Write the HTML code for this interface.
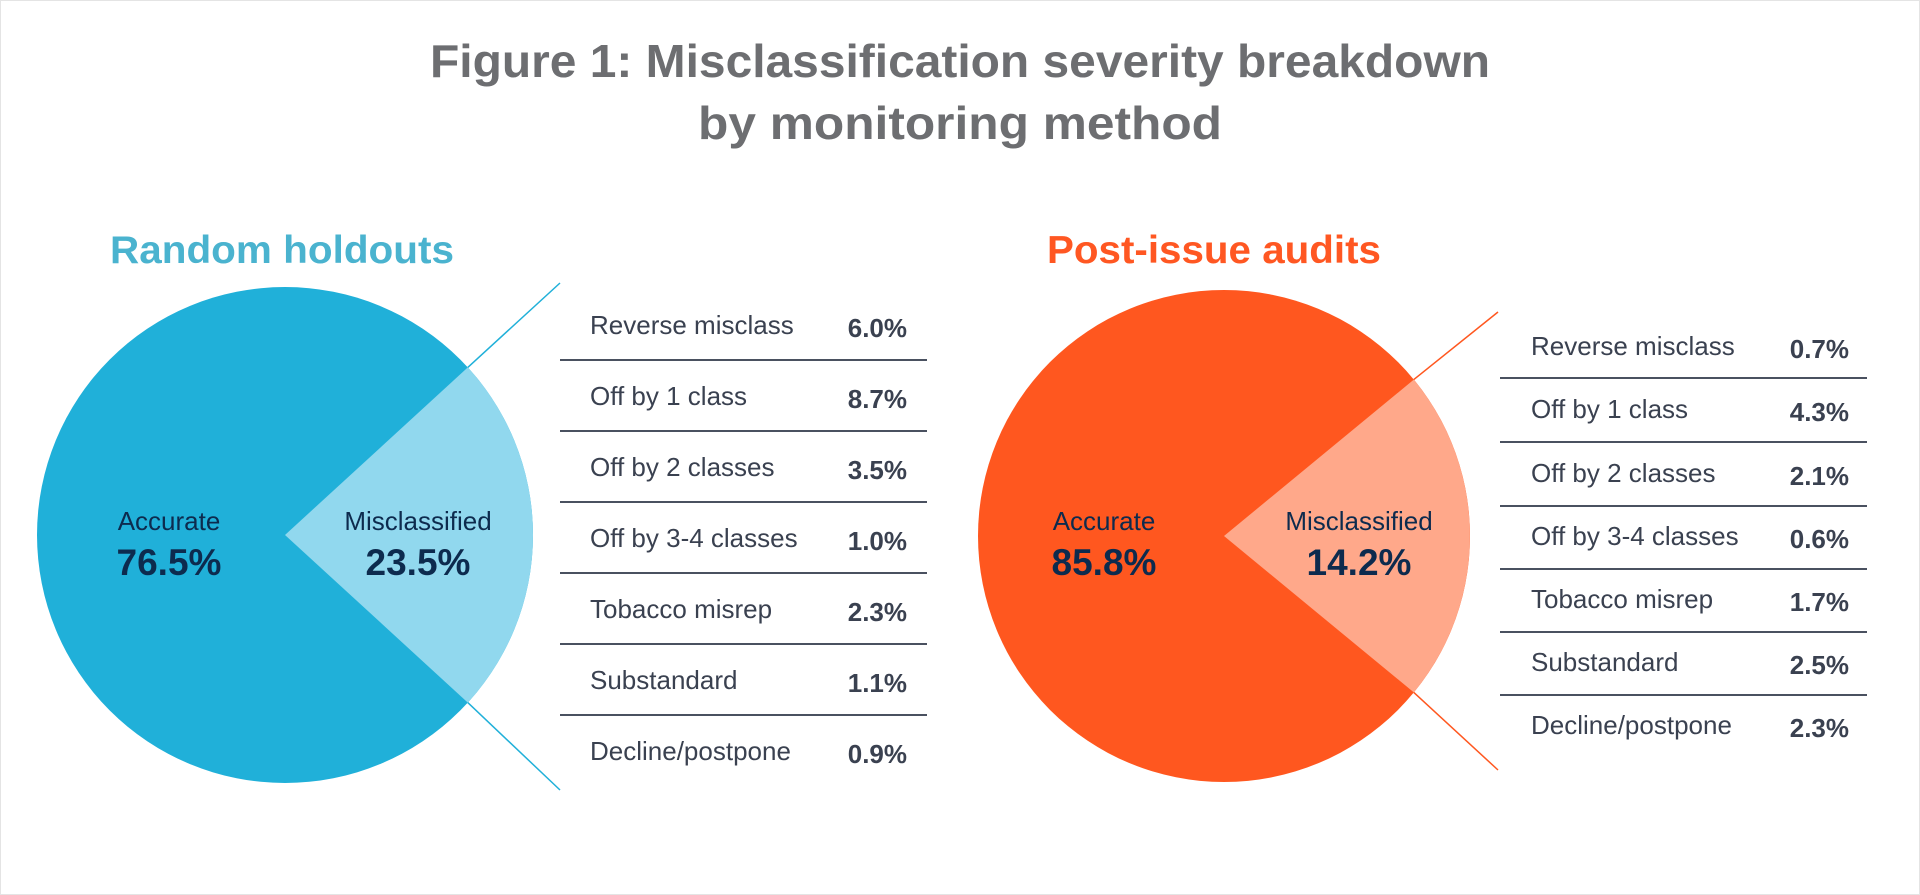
<!DOCTYPE html>
<html><head><meta charset="utf-8"><style>
html,body{margin:0;padding:0;background:#fff;}
svg{display:block;}
</style></head><body>
<svg width="1920" height="895" viewBox="0 0 1920 895" xmlns="http://www.w3.org/2000/svg" font-family="Liberation Sans, Arial, sans-serif">
<rect x="0.5" y="0.5" width="1919" height="894" fill="#fff" stroke="#e4e4e4"/>
<g fill="#6d6e71" font-weight="bold" font-size="46" text-anchor="middle">
<text x="960" y="77" textLength="1060" lengthAdjust="spacingAndGlyphs">Figure 1: Misclassification severity breakdown</text>
<text x="960" y="139" textLength="524" lengthAdjust="spacingAndGlyphs">by monitoring method</text>
</g>
<text x="282" y="263" font-size="39" font-weight="bold" fill="#4ab3cf" text-anchor="middle" textLength="344" lengthAdjust="spacingAndGlyphs">Random holdouts</text>
<text x="1214" y="263" font-size="39" font-weight="bold" fill="#ff5722" text-anchor="middle" textLength="334" lengthAdjust="spacingAndGlyphs">Post-issue audits</text>

<!-- left pie -->
<circle cx="285" cy="535" r="248" fill="#20b0d9"/>
<path d="M285,535 L467.8,367.4 A248,248 0 0 1 467.8,702.6 Z" fill="#91d8ee"/>
<line x1="467.8" y1="367.4" x2="560" y2="283" stroke="#20b0d9" stroke-width="1.5"/>
<line x1="467.8" y1="702.6" x2="560" y2="790" stroke="#20b0d9" stroke-width="1.5"/>
<g text-anchor="middle" fill="#0d2b4e">
<text x="169" y="530" font-size="26">Accurate</text>
<text x="169" y="575" font-size="37" font-weight="bold">76.5%</text>
<text x="418" y="530" font-size="26">Misclassified</text>
<text x="418" y="575" font-size="37" font-weight="bold">23.5%</text>
</g>

<!-- right pie -->
<circle cx="1224" cy="536" r="246" fill="#ff571f"/>
<path d="M1224,536 L1413.8,379.6 A246,246 0 0 1 1413.8,692.4 Z" fill="#ffa88a"/>
<line x1="1413.8" y1="379.6" x2="1498" y2="312" stroke="#ff571f" stroke-width="1.5"/>
<line x1="1413.8" y1="692.4" x2="1498" y2="770" stroke="#ff571f" stroke-width="1.5"/>
<g text-anchor="middle" fill="#0d2b4e">
<text x="1104" y="530" font-size="26">Accurate</text>
<text x="1104" y="575" font-size="37" font-weight="bold">85.8%</text>
<text x="1359" y="530" font-size="26">Misclassified</text>
<text x="1359" y="575" font-size="37" font-weight="bold">14.2%</text>
</g>

<!-- left table -->
<g stroke="#4a5160" stroke-width="2">
<line x1="560" y1="360" x2="927" y2="360"/><line x1="560" y1="431" x2="927" y2="431"/>
<line x1="560" y1="502" x2="927" y2="502"/><line x1="560" y1="573" x2="927" y2="573"/>
<line x1="560" y1="644" x2="927" y2="644"/><line x1="560" y1="715" x2="927" y2="715"/>
</g>
<g font-size="26" fill="#3a4150">
<text x="590" y="334">Reverse misclass</text>
<text x="590" y="405">Off by 1 class</text>
<text x="590" y="476">Off by 2 classes</text>
<text x="590" y="547">Off by 3-4 classes</text>
<text x="590" y="618">Tobacco misrep</text>
<text x="590" y="689">Substandard</text>
<text x="590" y="760">Decline/postpone</text>
</g>
<g font-size="26" font-weight="bold" fill="#3a4150" text-anchor="end">
<text x="907" y="337">6.0%</text><text x="907" y="408">8.7%</text><text x="907" y="479">3.5%</text>
<text x="907" y="550">1.0%</text><text x="907" y="621">2.3%</text><text x="907" y="692">1.1%</text>
<text x="907" y="763">0.9%</text>
</g>

<!-- right table -->
<g stroke="#4a5160" stroke-width="2">
<line x1="1500" y1="378" x2="1867" y2="378"/><line x1="1500" y1="442" x2="1867" y2="442"/>
<line x1="1500" y1="506" x2="1867" y2="506"/><line x1="1500" y1="569" x2="1867" y2="569"/>
<line x1="1500" y1="632" x2="1867" y2="632"/><line x1="1500" y1="695" x2="1867" y2="695"/>
</g>
<g font-size="26" fill="#3a4150">
<text x="1531" y="355">Reverse misclass</text>
<text x="1531" y="418">Off by 1 class</text>
<text x="1531" y="482">Off by 2 classes</text>
<text x="1531" y="545">Off by 3-4 classes</text>
<text x="1531" y="608">Tobacco misrep</text>
<text x="1531" y="671">Substandard</text>
<text x="1531" y="734">Decline/postpone</text>
</g>
<g font-size="26" font-weight="bold" fill="#3a4150" text-anchor="end">
<text x="1849" y="358">0.7%</text><text x="1849" y="421">4.3%</text><text x="1849" y="485">2.1%</text>
<text x="1849" y="548">0.6%</text><text x="1849" y="611">1.7%</text><text x="1849" y="674">2.5%</text>
<text x="1849" y="737">2.3%</text>
</g>
</svg>
</body></html>
